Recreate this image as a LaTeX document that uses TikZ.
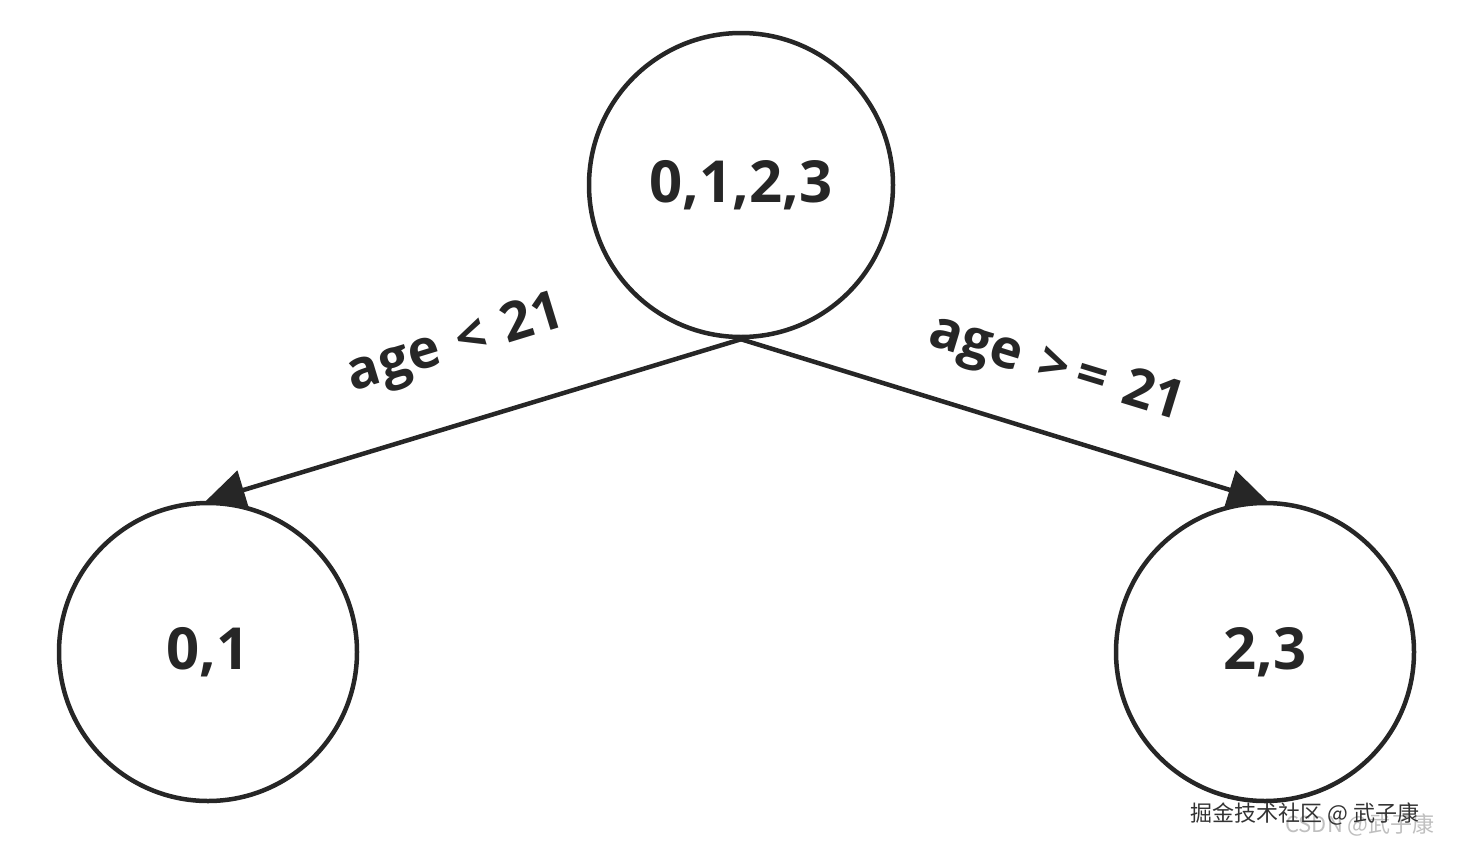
\documentclass[tikz,border=0pt]{standalone}
\usepackage{fontspec}
\setmainfont{Open Sans}
\newfontfamily\cjk{Noto Sans CJK SC}
\usetikzlibrary{arrows.meta}
\tikzset{
  tnode/.style={circle,draw=black!85,line width=4.5pt,inner sep=0pt,minimum size=298pt,font=\fontsize{58}{66}\selectfont\bfseries,text=black!85},
  edge/.style={draw=black!85,line width=4.5pt,-{Triangle[length=40pt,width=40pt]},shorten >=-3pt},
  elabel/.style={font=\fontsize{54}{60}\selectfont\bfseries,text=black!85}
}
\begin{document}
\begin{tikzpicture}[x=1pt,y=-1pt]
\useasboundingbox (0,0) rectangle (1460,852);
\node[tnode,minimum size=304pt] (root) at (741,185) {0,1,2,3};
\node[tnode] (l) at (208,652) {0,1};
\node[tnode] (r) at (1265,652) {2,3};
\draw[edge] (root.south) -- (l.north);
\draw[edge] (root.south) -- (r.north);
\node[elabel,rotate=17] (la) at (456,346) {age\,\,<\,\,21};
\node[elabel,rotate=-17] (ra) at (1056,370) {age\,\,>\,=\,\,21};
\node[font=\cjk\fontsize{22}{26}\selectfont,text=black!25] (w2) at (1360,825) {CSDN @武子康};
\node[font=\cjk\fontsize{22}{26}\selectfont,text=black!80] (w1) at (1305,814) {掘金技术社区 @ 武子康};
\end{tikzpicture}
\end{document}
